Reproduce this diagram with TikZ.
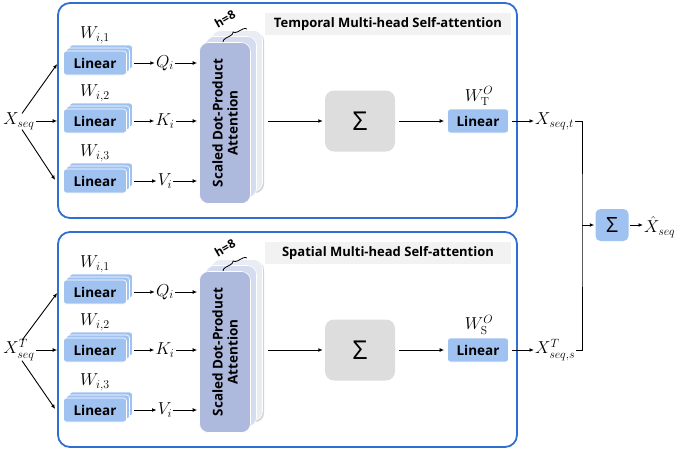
\documentclass[tikz,border=0pt]{standalone}
\usepackage{fontspec}
\setsansfont{Open Sans}
\newfontfamily\osans{Open Sans}
\usetikzlibrary{arrows.meta,decorations.pathreplacing,shadows}
\definecolor{frameblue}{RGB}{47,111,208}
\definecolor{linblue}{RGB}{160,194,240}
\definecolor{attfront}{RGB}{174,185,222}
\definecolor{attmid}{RGB}{214,220,240}
\definecolor{attback}{RGB}{234,236,243}
\definecolor{sumgray}{RGB}{221,221,221}
\definecolor{titlegray}{RGB}{242,242,242}
\tikzset{
  frame/.style={draw=frameblue,line width=1.8pt,rounded corners=12pt},
  ttl/.style={fill=titlegray,minimum width=246pt,minimum height=22pt,inner sep=0pt,font=\osans\bfseries\fontsize{13}{15}\selectfont},
  linb/.style={fill=linblue,draw=white,line width=0.6pt,rounded corners=3pt,minimum width=63pt,minimum height=24pt,inner sep=0pt,font=\osans\bfseries\fontsize{13.5}{15}\selectfont},
  attb/.style={draw=white,line width=0.6pt,rounded corners=9pt,minimum width=51pt,minimum height=161pt,inner sep=0pt},
  sumb/.style={fill=sumgray,rounded corners=9pt,minimum width=70pt,minimum height=61pt,inner sep=0pt,font=\osans\fontsize{26}{28}\selectfont},
  fsum/.style={fill=linblue,rounded corners=5pt,minimum width=33pt,minimum height=32pt,inner sep=0pt,font=\osans\fontsize{21}{23}\selectfont},
  mth/.style={inner sep=1pt,font=\fontsize{16.5}{19}\selectfont},
  arr/.style={-{Latex[length=4.5pt,width=3.8pt]},line width=0.9pt},
  ln/.style={line width=0.9pt},
}
\newcommand\mhblock[6]{%
\begin{scope}[shift={(0,#2)}]
  \draw[frame] (58,3) rectangle (517,218);
  \node[ttl] (#1title) at (388,24) {#3};
  % input
  \node[mth] (#1X) at (19,121) {#4};
  % linear stacks
  \foreach \n/\yy in {1/63,2/121,3/181}{
    \node[linb] at (101,\yy-6) {};
    \node[linb] at (98,\yy-3) {};
    \node[linb] (#1L\n) at (95,\yy) {Linear};
    \node[mth] (#1W\n) at (95,\yy-28) {$W_{i,\n}$};
  }
  \node[mth] (#1Q) at (165,63) {$Q_i$};
  \node[mth] (#1K) at (165,121) {$K_i$};
  \node[mth] (#1V) at (165,181) {$V_i$};
  % attention stack
  \node[attb,fill=attback,drop shadow={shadow xshift=1.5pt,shadow yshift=-1.5pt,opacity=0.35}] (#1A3) at (237,111) {};
  \node[attb,fill=attmid] (#1A2) at (231,117) {};
  \node[attb,fill=attfront] (#1A) at (225,123) {};
  \node[rotate=90,align=center,font=\osans\bfseries\fontsize{13.5}{15}\selectfont] (#1At) at (#1A) {Scaled Dot-Product\\Attention};
  \draw[line width=0.8pt,decorate,decoration={brace,amplitude=4pt}] (223,42) -- (247,29);
  \node[rotate=30,inner sep=0pt,font=\osans\bfseries\fontsize{12}{14}\selectfont] (#1h) at (225,19) {h=8};
  % sum and output linear
  \node[sumb] (#1S) at (360,121) {Σ};
  \node[linb,minimum width=61pt] (#1O) at (478,121) {Linear};
  \node[mth] (#1WO) at (479,96) {#5};
  \node[mth,anchor=west] (#1Y) at (534,121) {#6};
  % connectors
  \draw[arr] ([xshift=3pt,yshift=-2pt]#1X.north) -- ([xshift=-6pt,yshift=-1pt]#1L1.west);
  \draw[arr] (#1X.east) -- ([xshift=-6pt]#1L2.west);
  \draw[arr] ([xshift=3pt,yshift=1pt]#1X.south) -- ([xshift=-8pt,yshift=1pt]#1L3.west);
  \draw[arr] ([xshift=7pt]#1L1.east) -- (#1Q.west);
  \draw[arr] ([xshift=7pt]#1L2.east) -- (#1K.west);
  \draw[arr] ([xshift=7pt]#1L3.east) -- (#1V.west);
  \draw[arr] (#1Q.east) -- ([xshift=-2pt]#1A.west |- #1Q);
  \draw[arr] (#1K.east) -- ([xshift=-2pt]#1A.west |- #1K);
  \draw[arr] (#1V.east) -- ([xshift=-2pt]#1A.west |- #1V);
  \draw[arr] ([xshift=5pt]#1A3.east |- #1S) -- ([xshift=-2pt]#1S.west);
  \draw[arr] ([xshift=4pt]#1S.east) -- ([xshift=-3pt]#1O.west);
  \draw[arr] ([xshift=3pt]#1O.east) -- (#1Y.west);
\end{scope}}
\begin{document}
\begin{tikzpicture}[x=1pt,y=-1pt]
\useasboundingbox (0,0) rectangle (674,453);
\mhblock{t}{0}{Temporal Multi-head Self-attention}{$X_{seq}$}{$W_{\mathrm{T}}^{O}$}{$X_{seq,t}$}
\mhblock{s}{229}{Spatial Multi-head Self-attention}{$X_{seq}^{T}$}{$W_{\mathrm{S}}^{O}$}{$X_{seq,s}^{T}$}
% merge
\node[fsum] (F) at (612,225) {Σ};
\node[mth,anchor=west] (Xh) at (643,227) {$\hat{X}_{seq}$};
\coordinate (bus) at (582,225);
\draw[ln] (tY.east) -| (bus) |- (sY.east);
\draw[arr] (bus) -- ([xshift=-1pt]F.west);
\draw[arr] ([xshift=1pt]F.east) -- (Xh.west |- F.east);
\end{tikzpicture}
\end{document}
